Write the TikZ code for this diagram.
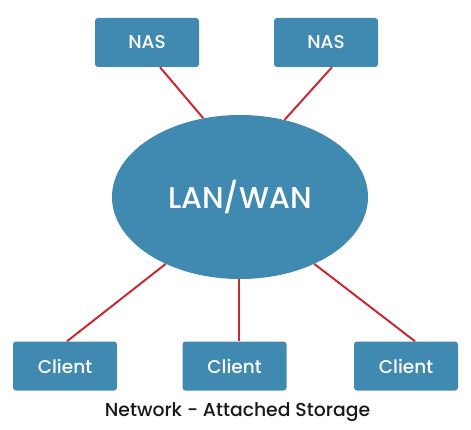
\documentclass[tikz,border=0pt]{standalone}
\usepackage{fontspec}
\setmainfont{Poppins}[UprightFont={* Medium}]
\usetikzlibrary{shapes.geometric}
\definecolor{BoxClr}{rgb}{0.251,0.537,0.690}
\definecolor{LinkClr}{rgb}{0.784,0.165,0.200}
\definecolor{CaptionClr}{rgb}{0.1,0.1,0.1}
\tikzset{
  unitbox/.style={fill=BoxClr,rounded corners=3pt,minimum width=104pt,minimum height=49pt,
    inner sep=0pt,text=white,font=\fontsize{18.5}{20}\selectfont},
  netcloud/.style={ellipse,fill=BoxClr,minimum width=256pt,minimum height=164pt,
    inner sep=0pt,text=white,font=\fontsize{30}{34}\selectfont},
  link/.style={LinkClr,line width=2pt}
}

\begin{document}
\begin{tikzpicture}[x=1pt,y=-1pt]
\useasboundingbox (0,0) rectangle (471,430);

\node[netcloud] (lan) at (240,197) {LAN/WAN};

\node[unitbox] (nasA) at (147,42.5) {NAS};
\node[unitbox] (nasB) at (326,42.5) {NAS};

\node[unitbox] (clA) at (65,366) {Client};
\node[unitbox] (clB) at (234.5,366) {Client};
\node[unitbox] (clC) at (406,366) {Client};

\begin{scope}[on background layer/.try]
\draw[link] ([xshift=13pt]nasA.south) -- (lan.115);
\draw[link] ([xshift=6pt]nasB.south) -- (lan.60);
\draw[link] (lan.222) -- ([xshift=2pt]clA.north);
\draw[link] ([xshift=-1pt]lan.south) -- ([xshift=4.5pt]clB.north);
\draw[link] (lan.318) -- ([xshift=9pt]clC.north);
\end{scope}

\node[text=CaptionClr,font=\fontsize{18.8}{21}\selectfont] (caption) at (237.5,412) {Network - Attached Storage};

\end{tikzpicture}
\end{document}
